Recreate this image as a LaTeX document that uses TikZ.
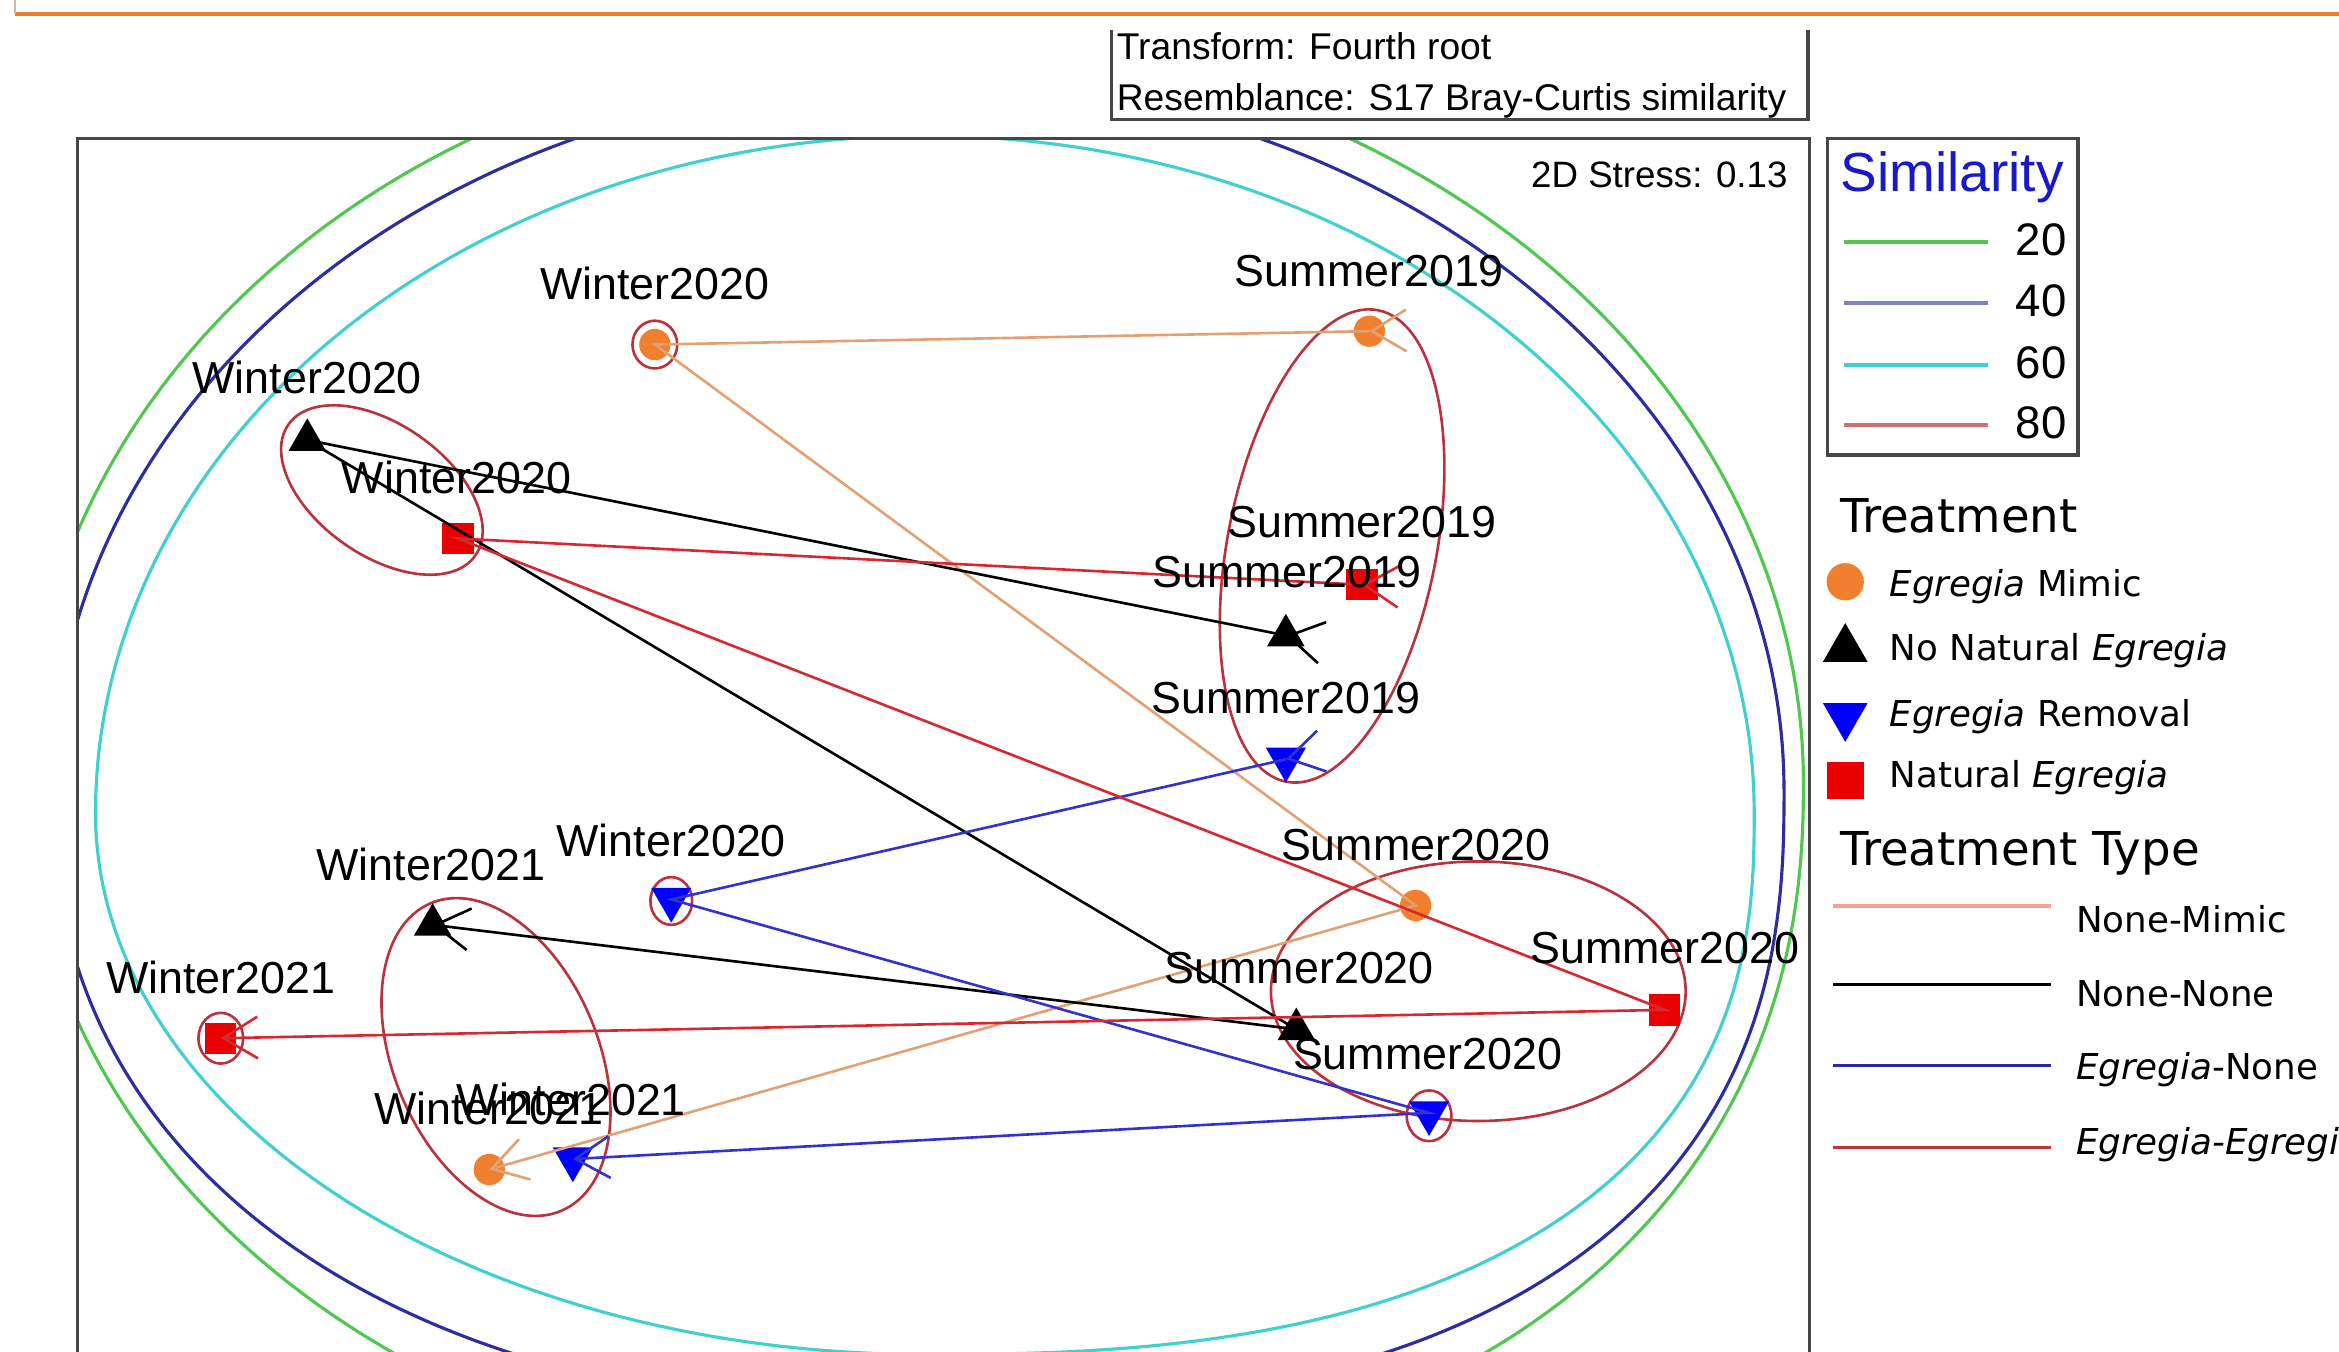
\documentclass[tikz,border=0pt]{standalone}
\usepackage{fontspec}
\setmainfont{Liberation Sans}
\newfontfamily\legfont{DejaVu Sans}
\usetikzlibrary{arrows.meta,decorations.markings,shapes.geometric}
\definecolor{hdrorange}{RGB}{237,125,49}
\definecolor{hdrgrey}{RGB}{205,185,170}
\definecolor{framegrey}{RGB}{70,70,70}
\definecolor{simgreen}{RGB}{80,200,80}
\definecolor{simnavy}{RGB}{45,45,160}
\definecolor{simcyan}{RGB}{64,208,208}
\definecolor{simred}{RGB}{185,50,60}
\definecolor{simtitle}{RGB}{25,25,200}
\definecolor{mimicfill}{RGB}{240,128,48}
\definecolor{natfill}{RGB}{235,0,0}
\definecolor{remfill}{RGB}{0,0,255}
\definecolor{nmline}{RGB}{226,160,115}
\definecolor{enline}{RGB}{50,50,205}
\definecolor{eeline}{RGB}{215,40,50}
\definecolor{legnm}{RGB}{240,165,140}
\definecolor{legen}{RGB}{40,40,170}
\definecolor{legee}{RGB}{190,55,60}
% superellipse-like contour: style, cx, cy, aL, aR, bT, bB, eBL, eBR
\newcommand\contourshape[9]{%
 \draw[#1] plot[domain=0.25:359.75,samples=240,smooth cycle]
 ({#2+((cos(\x)>0)*#5+(cos(\x)<=0)*#4)*cos(\x)*pow(abs(cos(\x)),(sin(\x)>0)*((cos(\x)>0)*#9+(cos(\x)<=0)*#8))},
  {#3+((sin(\x)>0)*#7+(sin(\x)<=0)*#6)*sin(\x)*pow(abs(sin(\x)),(sin(\x)>0)*((cos(\x)>0)*#9+(cos(\x)<=0)*#8))});}
\tikzset{
  mytip/.tip={Straight Barb[length=2.3mm,width=2.8mm]},
  traj/.style={line width=0.5pt,-{mytip},postaction={decorate},
    decoration={markings,mark=at position 0 with {\arrow{mytip}}}},
  frame/.style={draw=framegrey,line width=0.6pt},
  lab/.style={font=\fontsize{8.55}{10}\selectfont,anchor=base,inner sep=0},
  boxtxt/.style={font=\fontsize{7.1}{9}\selectfont,anchor=base west,inner sep=0},
  legtitle/.style={font=\legfont\fontsize{8.9}{10}\selectfont,anchor=base west,inner sep=0},
  legitem/.style={font=\legfont\fontsize{6.8}{8}\selectfont,anchor=base west,inner sep=0},
  simnum/.style={font=\fontsize{8.7}{10}\selectfont,anchor=base east,inner sep=0},
  mimicpt/.style={circle,fill=mimicfill,minimum size=2.1mm,inner sep=0},
  nonept/.style={regular polygon,regular polygon sides=3,fill=black,minimum size=2.9mm,inner sep=0},
  rempt/.style={regular polygon,regular polygon sides=3,shape border rotate=180,fill=remfill,minimum size=3.1mm,inner sep=0},
  natpt/.style={rectangle,fill=natfill,minimum size=2.1mm,inner sep=0},
  contour/.style={line width=0.6pt},
  grp/.style={draw=simred,line width=0.5pt},
}
\begin{document}
\begin{tikzpicture}[x=0.1mm,y=-0.1mm]
\useasboundingbox (0,0) rectangle (1568,906);
% header
\draw[hdrorange,line width=0.6pt] (10,9.4) -- (1568,9.4);
\draw[hdrgrey,line width=0.4pt] (10,0) -- (10,9.4);
% transform box
\draw[frame] (745,20) -- (745,80) -- (1212,80) -- (1212,20);
\node[boxtxt] (tr1) at (748,40) {Transform: Fourth root};
\node[boxtxt] (tr2) at (748,74) {Resemblance: S17 Bray-Curtis similarity};
% plot
\begin{scope}
\clip (52,93) rectangle (1213,906);
\contourshape{contour,simgreen}{608}{525}{591}{601}{497}{470}{0}{-0.111}
\contourshape{contour,simnavy}{615}{530}{580}{581}{476}{415}{-0.09}{-0.2}
\contourshape{contour,simcyan}{620}{545}{556}{556}{454}{363}{0}{-0.2}
% 80% groups
\draw[grp,rotate around={-35:(256,328.5)}] (256,328.5) ellipse [x radius=76.5,y radius=44];
\draw[grp,rotate around={-11:(893,366)}] (893,366) ellipse [x radius=70,y radius=161];
\draw[grp] (991,664.5) ellipse [x radius=139,y radius=87];
\draw[grp,rotate around={23:(332.5,708.6)}] (332.5,708.6) ellipse [x radius=68.5,y radius=112];
\draw[grp] (439,231) ellipse [x radius=15,y radius=16];
\draw[grp] (450,604) ellipse [x radius=14,y radius=16];
\draw[grp] (958,748) ellipse [x radius=15,y radius=17];
\draw[grp] (148,696) ellipse [x radius=15,y radius=17];
% markers
\node[mimicpt] (su19o) at (918,222) {};
\node[mimicpt] (wi20o) at (439,231) {};
\node[mimicpt] (su20o) at (949,607) {};
\node[mimicpt] (wi21o) at (328,784) {};
\node[nonept] (su19n) at (862,426) {};
\node[nonept] (wi20n) at (206,295) {};
\node[nonept] (su20n) at (869,690) {};
\node[nonept] (wi21n) at (290,620) {};
\node[rempt] (su19r) at (862,509) {};
\node[rempt] (wi20r) at (450,603) {};
\node[rempt] (su20r) at (958,746) {};
\node[rempt] (wi21r) at (384,777) {};
\node[natpt] (su19a) at (913,392) {};
\node[natpt] (wi20a) at (307,361) {};
\node[natpt] (su20a) at (1116,677) {};
\node[natpt] (wi21a) at (148,696) {};
% trajectories
\draw[traj,nmline] (su19o.center) -- (wi20o.center) -- (su20o.center) -- (wi21o.center);
\draw[traj,black] (su19n.center) -- (wi20n.center) -- (su20n.center) -- (wi21n.center);
\draw[traj,enline] (su19r.center) -- (wi20r.center) -- (su20r.center) -- (wi21r.center);
\draw[traj,eeline] (su19a.center) -- (wi20a.center) -- (su20a.center) -- (wi21a.center);
% labels
\node[lab] (lsu19o) at (918,192) {Summer2019};
\node[lab] (lwi20o) at (439,201) {Winter2020};
\node[lab] (lsu20o) at (949,577) {Summer2020};
\node[lab] (lwi21o) at (328,754) {Winter2021};
\node[lab] (lsu19n) at (863,394) {Summer2019};
\node[lab] (lwi20n) at (206,264) {Winter2020};
\node[lab] (lsu20n) at (871,659) {Summer2020};
\node[lab] (lwi21n) at (289,590) {Winter2021};
\node[lab] (lsu19r) at (862,478) {Summer2019};
\node[lab] (lwi20r) at (450,574) {Winter2020};
\node[lab] (lsu20r) at (957,717) {Summer2020};
\node[lab] (lwi21r) at (383,748) {Winter2021};
\node[lab] (lsu19a) at (913,360) {Summer2019};
\node[lab] (lwi20a) at (306,331) {Winter2020};
\node[lab] (lsu20a) at (1116,646) {Summer2020};
\node[lab] (lwi21a) at (148,666) {Winter2021};
\end{scope}
\draw[frame] (52,920) -- (52,93) -- (1213,93) -- (1213,920);
\node[font=\fontsize{7}{9}\selectfont,anchor=base east,inner sep=0] (stress) at (1199,126) {2D Stress: 0.13};
% similarity legend
\draw[frame] (1225,93) rectangle (1393,305);
\node[font=\fontsize{10.5}{12}\selectfont,text=simtitle,anchor=base west,inner sep=0] (simt) at (1233,128.5) {Similarity};
\draw[simgreen,line width=0.8pt] (1236,162) -- (1333,162);
\draw[simnavy!60,line width=0.8pt] (1236,203) -- (1333,203);
\draw[simcyan,line width=0.8pt] (1236,244.7) -- (1333,244.7);
\draw[simred!70,line width=0.8pt] (1236,285) -- (1333,285);
\node[simnum] (n20) at (1386,171) {20};
\node[simnum] (n40) at (1386,212) {40};
\node[simnum] (n60) at (1386,253.7) {60};
\node[simnum] (n80) at (1386,294) {80};
% treatment legend
\node[legtitle] (tt) at (1233,357) {Treatment};
\node[mimicpt,minimum size=2.5mm] (kmim) at (1237,390) {};
\node[nonept,minimum size=3.46mm] (knon) at (1237,435) {};
\node[rempt,minimum size=3.46mm] (krem) at (1237,480) {};
\node[natpt,minimum size=2.5mm] (knat) at (1237,523) {};
\node[legitem] (tmim) at (1266,400) {\itshape Egregia\upshape{} Mimic};
\node[legitem] (tnon) at (1266,442.5) {No Natural \itshape Egregia};
\node[legitem] (trem) at (1266,487) {\itshape Egregia\upshape{} Removal};
\node[legitem] (tnat) at (1266,528) {Natural \itshape Egregia};
% treatment type legend
\node[legtitle] (ttt) at (1233,580) {Treatment Type};
\draw[legnm,line width=0.6pt] (1229,607.4) -- (1375,607.4);
\draw[black,line width=0.6pt] (1229,660) -- (1375,660);
\draw[legen,line width=0.6pt] (1229,714.5) -- (1375,714.5);
\draw[legee,line width=0.6pt] (1229,769) -- (1375,769);
\node[legitem] (tnm) at (1391,625) {None-Mimic};
\node[legitem] (tnn) at (1391,675) {None-None};
\node[legitem] (ten) at (1391,724) {\itshape Egregia\upshape{}-None};
\node[legitem] (tee) at (1391,774) {\itshape Egregia-Egregia};
\end{tikzpicture}
\end{document}
